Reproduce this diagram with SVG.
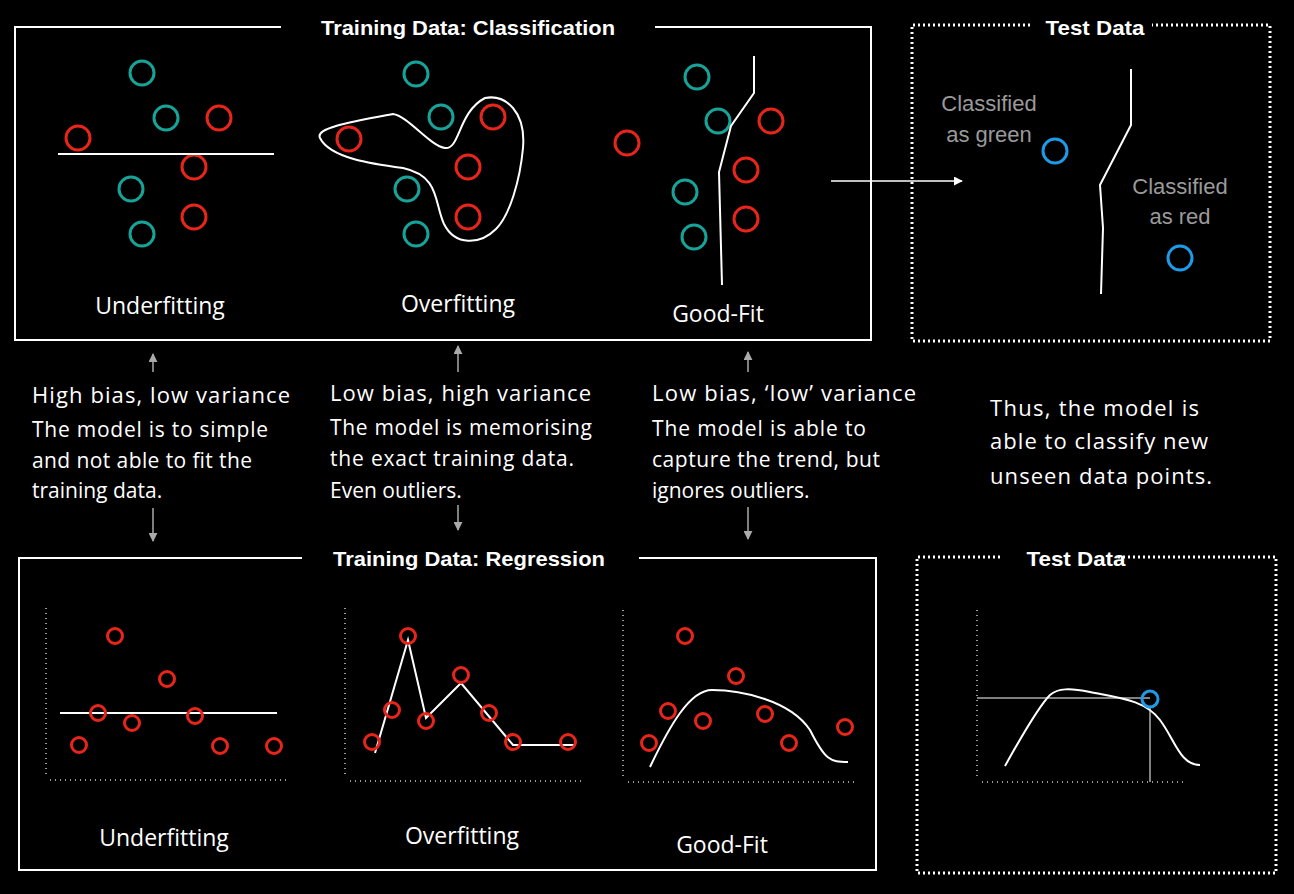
<svg xmlns="http://www.w3.org/2000/svg" width="1294" height="894" viewBox="0 0 1294 894">
<style>
.t{font-family:"Open Sans",Lato,sans-serif;fill:#fff}
.h{font-family:"Liberation Sans",Arial,sans-serif;font-weight:bold;fill:#fff;font-size:21px;text-anchor:middle}
.g{fill:none;stroke:#17a398;stroke-width:3}
.r{fill:none;stroke:#e8251a;stroke-width:3}
.b{fill:none;stroke:#1e9be8;stroke-width:3}
.w{fill:none;stroke:#fff;stroke-width:2}
.ax{fill:none;stroke:#999;stroke-width:2;stroke-dasharray:1 4}
.ar{stroke:#aaa;stroke-width:1.5;fill:none}
.c{font-family:"Liberation Sans",Arial,sans-serif;font-size:22px;fill:#9a9a9a;text-anchor:middle}
</style>
<defs>
<marker id="ah" viewBox="0 0 10 10" refX="9" refY="5" markerWidth="6" markerHeight="6" orient="auto"><path d="M0,0L10,5L0,10z" fill="#aaa"/></marker>
<marker id="aw" viewBox="0 0 10 10" refX="9" refY="5" markerWidth="6" markerHeight="6" orient="auto"><path d="M0,0L10,5L0,10z" fill="#fff"/></marker>
</defs>
<rect width="1294" height="894" fill="#000"/>

<g id="cls-box">
<path d="M281,27H15V340H871V27H655" class="w"/>
<text x="468" y="35" class="h" textLength="294" lengthAdjust="spacingAndGlyphs">Training Data: Classification</text>
</g>
<g id="cls-under">
<circle cx="142" cy="73" r="12" class="g"/><circle cx="166" cy="118" r="12" class="g"/><circle cx="131" cy="189" r="12" class="g"/><circle cx="142" cy="234" r="12" class="g"/>
<circle cx="78" cy="138" r="12" class="r"/><circle cx="219" cy="118" r="12" class="r"/><circle cx="194" cy="167" r="12" class="r"/><circle cx="194" cy="217" r="12" class="r"/>
<line x1="58" y1="154" x2="274" y2="154" class="w"/>
<text x="160" y="314" class="t" font-size="23" text-anchor="middle">Underfitting</text>
</g>
<g id="cls-over">
<circle cx="416" cy="74" r="12" class="g"/><circle cx="441" cy="117" r="12" class="g"/><circle cx="407" cy="189" r="12" class="g"/><circle cx="416" cy="234" r="12" class="g"/>
<circle cx="349" cy="139" r="12" class="r"/><circle cx="493" cy="117" r="12" class="r"/><circle cx="468" cy="167" r="12" class="r"/><circle cx="468" cy="217" r="12" class="r"/>
<path d="M320,138C315,128 350,122 393,114C408,116 430,146 445,148C460,150 458,112 485,98C506,94 526,112 523,148C520,180 510,215 496,229C480,245 455,246 444,224C434,202 440,176 403,168C372,164 330,158 320,138Z" class="w"/>
<text x="458" y="312" class="t" font-size="23" text-anchor="middle">Overfitting</text>
</g>
<g id="cls-good">
<circle cx="697" cy="77" r="12" class="g"/><circle cx="718" cy="121" r="12" class="g"/><circle cx="685" cy="192" r="12" class="g"/><circle cx="694" cy="237" r="12" class="g"/>
<circle cx="627" cy="143" r="12" class="r"/><circle cx="771" cy="121" r="12" class="r"/><circle cx="746" cy="170" r="12" class="r"/><circle cx="746" cy="219" r="12" class="r"/>
<polyline points="754,56 754,93 731,126 719,172 722,285" class="w"/>
<text x="718" y="322" class="t" font-size="23" text-anchor="middle">Good-Fit</text>
</g>
<g id="cls-test">
<path d="M1030,25H912V341H1270V25H1152" fill="none" stroke="#fff" stroke-width="3" stroke-dasharray="2 3"/>
<text x="1095" y="35" class="h" textLength="99" lengthAdjust="spacingAndGlyphs">Test Data</text>
<text x="989" y="111" class="c">Classified</text>
<text x="989" y="142" class="c">as green</text>
<text x="1180" y="194" class="c">Classified</text>
<text x="1180" y="224" class="c">as red</text>
<circle cx="1055" cy="151" r="12" class="b"/><circle cx="1180" cy="258" r="12" class="b"/>
<polyline points="1131,69 1131,125 1100,185 1103,228 1101,294" class="w"/>
</g>

<g id="notes">
<text class="t" font-size="22" x="32" y="403" textLength="258">High bias, low variance</text>
<text class="t" font-size="21" x="32" y="437" textLength="236">The model is to simple</text>
<text class="t" font-size="21" x="32" y="468" textLength="220">and not able to fit the</text>
<text class="t" font-size="21" x="32" y="498">training data.</text>
<text class="t" font-size="22" x="330" y="401" textLength="261">Low bias, high variance</text>
<text class="t" font-size="21" x="330" y="435" textLength="262">The model is memorising</text>
<text class="t" font-size="21" x="330" y="466" textLength="244">the exact training data.</text>
<text class="t" font-size="21" x="330" y="498">Even outliers.</text>
<text class="t" font-size="22" x="652" y="401" textLength="264">Low bias, ‘low’ variance</text>
<text class="t" font-size="21" x="652" y="436" textLength="214">The model is able to</text>
<text class="t" font-size="21" x="652" y="467" textLength="228">capture the trend, but</text>
<text class="t" font-size="21" x="652" y="498">ignores outliers.</text>
<text class="t" font-size="22" x="990" y="416" textLength="209">Thus, the model is</text>
<text class="t" font-size="22" x="990" y="449" textLength="218">able to classify new</text>
<text class="t" font-size="22" x="990" y="484" textLength="222">unseen data points.</text>
</g>

<g id="connectors">
<line x1="831" y1="181" x2="962" y2="181" stroke="#fff" stroke-width="1.5" marker-end="url(#aw)"/>
<line x1="153" y1="372" x2="153" y2="354" class="ar" marker-end="url(#ah)"/>
<line x1="458" y1="372" x2="458" y2="346" class="ar" marker-end="url(#ah)"/>
<line x1="748" y1="372" x2="748" y2="352" class="ar" marker-end="url(#ah)"/>
<line x1="153" y1="508" x2="153" y2="541" class="ar" marker-end="url(#ah)"/>
<line x1="458" y1="505" x2="458" y2="530" class="ar" marker-end="url(#ah)"/>
<line x1="748" y1="507" x2="748" y2="539" class="ar" marker-end="url(#ah)"/>
</g>

<g id="reg-box">
<path d="M302,558H19V870H876V558H639" class="w"/>
<text x="469" y="566" class="h" textLength="272" lengthAdjust="spacingAndGlyphs">Training Data: Regression</text>
</g>
<g id="reg-under">
<path d="M46,608V778M50,780H287" class="ax"/>
<line x1="60" y1="713" x2="277" y2="713" class="w"/>
<circle cx="115" cy="636" r="7.5" class="r"/><circle cx="167" cy="679" r="7.5" class="r"/><circle cx="98" cy="713" r="7.5" class="r"/><circle cx="132" cy="723" r="7.5" class="r"/><circle cx="195" cy="716" r="7.5" class="r"/><circle cx="79" cy="745" r="7.5" class="r"/><circle cx="220" cy="746" r="7.5" class="r"/><circle cx="274" cy="746" r="7.5" class="r"/>
<text x="164" y="846" class="t" font-size="23" text-anchor="middle">Underfitting</text>
</g>
<g id="reg-over">
<path d="M345,608V778M350,781H585" class="ax"/>
<polyline points="375,753 408,640 426,718 461,683 513,745 575,745" class="w"/>
<circle cx="408" cy="636" r="7.5" class="r"/><circle cx="461" cy="675" r="7.5" class="r"/><circle cx="392" cy="710" r="7.5" class="r"/><circle cx="426" cy="721" r="7.5" class="r"/><circle cx="489" cy="713" r="7.5" class="r"/><circle cx="372" cy="742" r="7.5" class="r"/><circle cx="513" cy="742" r="7.5" class="r"/><circle cx="568" cy="742" r="7.5" class="r"/>
<text x="462" y="844" class="t" font-size="23" text-anchor="middle">Overfitting</text>
</g>
<g id="reg-good">
<path d="M623,610V778M628,782H855" class="ax"/>
<path d="M650,767C670,725 690,690 712,690C740,690 790,700 810,730C825,760 830,762 848,762" class="w"/>
<circle cx="685" cy="636" r="7.5" class="r"/><circle cx="736" cy="676" r="7.5" class="r"/><circle cx="668" cy="711" r="7.5" class="r"/><circle cx="703" cy="721" r="7.5" class="r"/><circle cx="765" cy="714" r="7.5" class="r"/><circle cx="649" cy="743" r="7.5" class="r"/><circle cx="789" cy="743" r="7.5" class="r"/><circle cx="845" cy="727" r="7.5" class="r"/>
<text x="722" y="853" class="t" font-size="23" text-anchor="middle">Good-Fit</text>
</g>
<g id="reg-test">
<path d="M1000,557H917V873H1276V557H1115" fill="none" stroke="#fff" stroke-width="3" stroke-dasharray="2 3"/>
<text x="1076" y="566" class="h" textLength="99" lengthAdjust="spacingAndGlyphs">Test Data</text>
<path d="M977,610V778M982,782H1185" class="ax"/>
<path d="M977,698H1150M1150,706V782" stroke="#aaa" stroke-width="1.5" fill="none"/>
<path d="M1005,766C1025,730 1040,705 1050,695C1058,688 1070,688 1090,692C1120,698 1145,700 1160,720C1175,740 1180,765 1200,765" class="w"/>
<circle cx="1150" cy="699" r="8" class="b"/>
</g>
</svg>
